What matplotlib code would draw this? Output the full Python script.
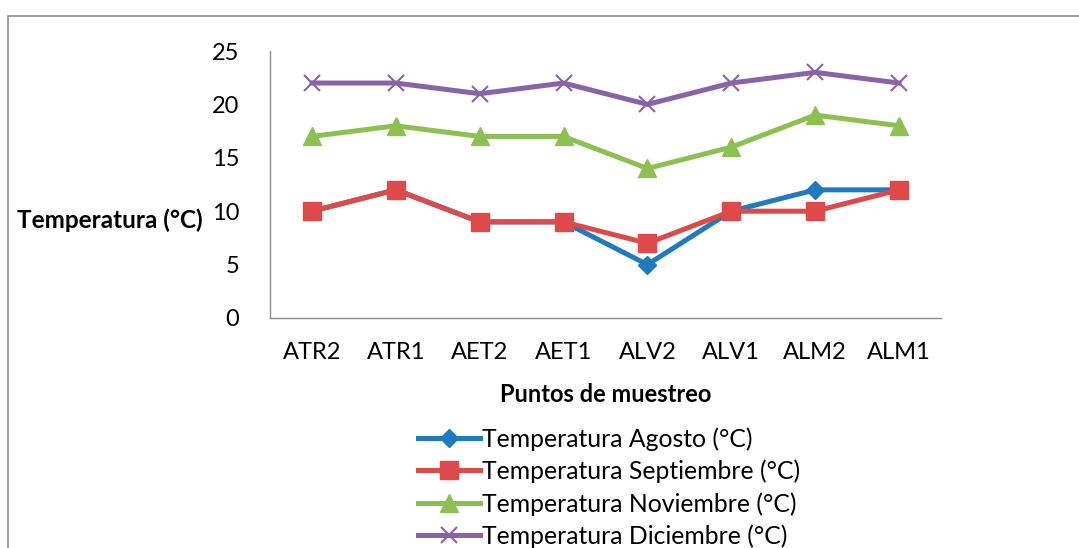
import matplotlib
matplotlib.use("Agg")
import matplotlib.pyplot as plt
from matplotlib.patches import Rectangle

puntos = ["ATR2", "ATR1", "AET2", "AET1", "ALV2", "ALV1", "ALM2", "ALM1"]
agosto = [10, 12, 9, 9, 5, 10, 12, 12]
septiembre = [10, 12, 9, 9, 7, 10, 10, 12]
noviembre = [17, 18, 17, 17, 14, 16, 19, 18]
diciembre = [22, 22, 21, 22, 20, 22, 23, 22]

plt.rcParams["font.family"] = ["Lato", "DejaVu Sans"]

W, H = 1079, 548
fig = plt.figure(figsize=(W / 100, H / 100), dpi=100)
fig.patch.set_facecolor("white")

# marco del gráfico
fig.patches.append(Rectangle((8 / W, -0.1), 1.2, 1 - 16 / H + 0.1,
                             transform=fig.transFigure, fill=False,
                             edgecolor="#8C8C8C", linewidth=1.2))

ax = fig.add_axes([270 / W, 1 - 318 / H, (941 - 270) / W, (318 - 51) / H])
x = list(range(len(puntos)))

lw = 3.6
ax.plot(x, agosto, color="#1F7BC0", lw=lw, marker="D", markersize=9,
        label="Temperatura Agosto (°C)")
ax.plot(x, septiembre, color="#DE4A4A", lw=lw, marker="s", markersize=13,
        label="Temperatura Septiembre (°C)")
ax.plot(x, noviembre, color="#8CC152", lw=lw, marker="^", markersize=13,
        label="Temperatura Noviembre (°C)")
ax.plot(x, diciembre, color="#8A62A8", lw=lw, marker="x", markersize=11,
        markeredgewidth=1.5, label="Temperatura Diciembre (°C)")

ax.set_xlim(-0.5, len(puntos) - 0.5)
ax.set_ylim(0, 25)
ax.set_yticks(range(0, 26, 5))
ax.set_xticks(x)
ax.set_xticklabels(puntos)
ax.tick_params(length=0, labelsize=17, colors="black")
ax.tick_params(axis="y", pad=22)
ax.tick_params(axis="x", pad=17)
for s in ["top", "right"]:
    ax.spines[s].set_visible(False)
for s in ["left", "bottom"]:
    ax.spines[s].set_color("#8C8C8C")
    ax.spines[s].set_linewidth(1.0)

fig.text(17 / W, 1 - 220 / H, "Temperatura (°C)", fontsize=17.5,
         fontweight="bold", va="center", ha="left")
ax.set_xlabel("Puntos de muestreo", fontsize=17, fontweight="bold", labelpad=15)

fig.legend(loc="upper left", bbox_to_anchor=(418 / W, 1 - 427 / H),
           frameon=False, fontsize=17.8, handlelength=2.5, handletextpad=0.1,
           labelspacing=0.36, borderaxespad=0, borderpad=0)

fig.savefig("out.png", dpi=100)
